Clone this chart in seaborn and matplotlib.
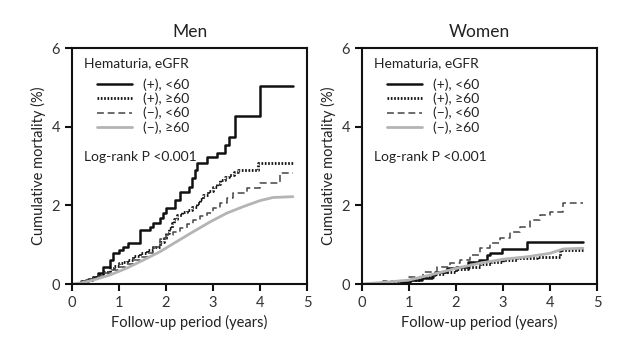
import matplotlib
matplotlib.use("Agg")
import matplotlib.pyplot as plt
import numpy as np
import pandas as pd
import seaborn as sns

# Kaplan-Meier style cumulative mortality (%)
men_pos_lt60_t = [0, 0.2, 0.35, 0.45, 0.56, 0.67, 0.81, 0.88, 0.99, 1.09, 1.20, 1.45, 1.66, 1.73, 1.87, 1.94,
                  2.01, 2.19, 2.30, 2.48, 2.55, 2.62, 2.65, 2.87, 3.08, 3.26, 3.33, 3.47, 4.00, 4.70]
men_pos_lt60_y = [0, 0.08, 0.13, 0.18, 0.27, 0.44, 0.61, 0.78, 0.86, 0.95, 1.03, 1.37, 1.46, 1.54, 1.67, 1.80,
                  1.92, 2.14, 2.35, 2.47, 2.69, 2.90, 3.07, 3.24, 3.32, 3.53, 3.75, 4.27, 5.03, 5.03]
men_pos_ge60_t = [0, 0.1, 0.2, 0.3, 0.45, 0.55, 0.67, 0.8, 0.9, 0.99, 1.08, 1.16, 1.3, 1.45, 1.6, 1.73, 1.87,
                  1.95, 2.01, 2.07, 2.12, 2.18, 2.23, 2.33, 2.44, 2.55, 2.65, 2.72, 2.79, 2.9, 3.01, 3.08, 3.15,
                  3.25, 3.33, 3.45, 3.54, 3.96, 4.70]
men_pos_ge60_y = [0, 0.03, 0.06, 0.11, 0.19, 0.25, 0.31, 0.4, 0.47, 0.53, 0.57, 0.61, 0.7, 0.78, 0.87, 0.95,
                  1.08, 1.18, 1.29, 1.42, 1.54, 1.65, 1.75, 1.82, 1.88, 1.97, 2.05, 2.16, 2.26, 2.36, 2.47, 2.55,
                  2.64, 2.71, 2.77, 2.84, 2.90, 3.08, 3.08]
men_neg_lt60_t = [0, 0.1, 0.2, 0.33, 0.45, 0.56, 0.67, 0.83, 0.99, 1.15, 1.30, 1.45, 1.59, 1.73, 1.87, 2.01,
                  2.15, 2.30, 2.44, 2.58, 2.72, 2.87, 3.01, 3.15, 3.29, 3.43, 3.72, 4.00, 4.43, 4.70]
men_neg_lt60_y = [0, 0.03, 0.05, 0.09, 0.14, 0.2, 0.27, 0.35, 0.44, 0.52, 0.61, 0.69, 0.78, 0.95, 1.15, 1.25,
                  1.33, 1.42, 1.52, 1.63, 1.72, 1.80, 1.93, 2.05, 2.18, 2.31, 2.43, 2.58, 2.81, 2.81]
men_neg_ge60_t = [0, 0.2, 0.45, 0.81, 1.16, 1.52, 1.87, 2.23, 2.58, 2.94, 3.29, 3.65, 4.00, 4.28, 4.70]
men_neg_ge60_y = [0, 0.03, 0.10, 0.23, 0.40, 0.61, 0.82, 1.08, 1.33, 1.58, 1.80, 1.97, 2.12, 2.20, 2.22]

women_pos_lt60_t = [0, 0.81, 1.02, 1.27, 1.48, 1.55, 1.80, 2.01, 2.26, 2.48, 2.65, 2.72, 2.97, 3.50, 4.70]
women_pos_lt60_y = [0, 0.04, 0.10, 0.14, 0.23, 0.31, 0.40, 0.44, 0.57, 0.61, 0.74, 0.80, 0.89, 1.07, 1.07]
women_pos_ge60_t = [0, 0.45, 1.00, 1.25, 1.52, 1.75, 2.01, 2.25, 2.51, 2.75, 3.01, 3.29, 3.72, 4.21, 4.70]
women_pos_ge60_y = [0, 0.04, 0.10, 0.17, 0.25, 0.31, 0.37, 0.43, 0.50, 0.55, 0.61, 0.67, 0.69, 0.86, 0.86]
women_neg_lt60_t = [0, 0.45, 1.00, 1.30, 1.59, 1.87, 2.09, 2.30, 2.51, 2.72, 2.94, 3.15, 3.36, 3.57, 3.79, 4.00,
                    4.28, 4.70]
women_neg_lt60_y = [0, 0.08, 0.19, 0.31, 0.42, 0.53, 0.61, 0.74, 0.91, 1.03, 1.16, 1.33, 1.46, 1.63, 1.75, 1.84,
                    2.05, 2.05]
women_neg_ge60_t = [0, 0.45, 1.00, 1.52, 2.01, 2.51, 3.01, 3.50, 4.00, 4.28, 4.70]
women_neg_ge60_y = [0, 0.04, 0.10, 0.25, 0.40, 0.53, 0.63, 0.69, 0.78, 0.89, 0.91]

labels = ["(+), <60", "(+), \u226560", "(\u2212), <60", "(\u2212), \u226560"]
panels = {
    "Men": [(men_pos_lt60_t, men_pos_lt60_y), (men_pos_ge60_t, men_pos_ge60_y),
            (men_neg_lt60_t, men_neg_lt60_y), (men_neg_ge60_t, men_neg_ge60_y)],
    "Women": [(women_pos_lt60_t, women_pos_lt60_y), (women_pos_ge60_t, women_pos_ge60_y),
              (women_neg_lt60_t, women_neg_lt60_y), (women_neg_ge60_t, women_neg_ge60_y)],
}

styles = [
    dict(color="#111111", lw=1.8, ls="-", ds="steps-post"),
    dict(color="#111111", lw=2.0, ls=(0, (0.6, 0.6)), ds="steps-post"),
    dict(color="#444444", lw=1.1, ls=(0, (4.5, 2.5)), ds="steps-post"),
    dict(color="#b4b4b4", lw=2.0, ls="-", ds="default"),
]

sns.set_style("ticks")
plt.rcParams["font.family"] = ["Lato", "DejaVu Sans"]

fig = plt.figure(figsize=(6.4, 3.51), dpi=100)
ax_pos = {"Men": [72 / 640, 1 - 284 / 351, 235 / 640, 236 / 351],
          "Women": [362 / 640, 1 - 284 / 351, 235 / 640, 236 / 351]}

for name, series in panels.items():
    ax = fig.add_axes(ax_pos[name])
    for (t, y), lab, st in zip(series, labels, styles):
        df = pd.DataFrame({"t": t, "y": y})
        sns.lineplot(data=df, x="t", y="y", ax=ax, label=lab, drawstyle=st["ds"],
                     color=st["color"], linewidth=st["lw"], linestyle=st["ls"], sort=False)
    ax.set_xlim(0, 5)
    ax.set_ylim(0, 6)
    ax.set_xticks(np.arange(0, 6, 1))
    ax.set_yticks([0, 2, 4, 6])
    for s in ax.spines.values():
        s.set_linewidth(1.5)
        s.set_color("#111111")
    ax.tick_params(width=1.5, length=5, direction="out", labelsize=10.5, colors="#111111",
                   labelcolor="#333333")
    ax.set_title(name, fontsize=12.5, pad=8, color="#222222")
    ax.set_xlabel("Follow-up period (years)", fontsize=10.5, color="#222222")
    ax.set_ylabel("Cumulative mortality (%)", fontsize=10.5, color="#222222")
    ax.text(0.05, 5.62, "Hematuria, eGFR", fontsize=10, va="center", ha="left",
            transform=ax.get_yaxis_transform(), color="#222222")
    ax.legend(loc="upper left", bbox_to_anchor=(0.106, 0.872), frameon=False, fontsize=10,
              borderpad=0, borderaxespad=0, handlelength=2.5, handletextpad=0.8, labelspacing=0.13,
              labelcolor="#222222")
    ax.text(0.05, 3.22, "Log-rank P <0.001", fontsize=10, va="center", ha="left",
            transform=ax.get_yaxis_transform(), color="#222222")

fig.savefig("out.png", dpi=100)
